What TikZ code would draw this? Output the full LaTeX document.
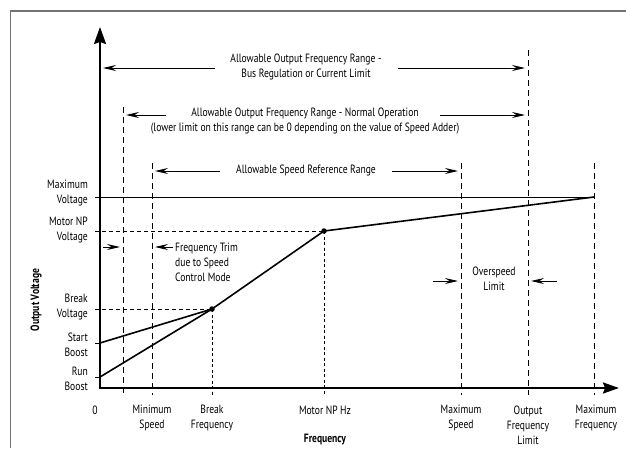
\documentclass[tikz,border=0pt]{standalone}
\usepackage{fontspec}
\setmainfont{PT Sans}[FakeStretch=0.8]
\usetikzlibrary{arrows.meta}
\begin{document}
\begin{tikzpicture}[x=1pt,y=-1pt,
  lbl/.style={font=\fontsize{12}{15}\selectfont, inner sep=0pt, align=center, text=black},
  lblr/.style={lbl, align=right, anchor=east},
  lbll/.style={lbl, align=left, anchor=west},
  boldlbl/.style={lbl, font=\fontsize{12}{15}\selectfont\bfseries},
  axisline/.style={line width=2.2pt},
  curveline/.style={line width=1.6pt},
  vdash/.style={line width=1pt, dash pattern=on 6pt off 4pt},
  hdash/.style={line width=0.8pt, dash pattern=on 4pt off 3pt},
  fdash/.style={line width=0.8pt, dash pattern=on 3pt off 2.5pt},
  arr/.style={line width=1pt, -{Stealth[length=13pt,width=6pt,inset=4.5pt]}},
  ptdot/.style={circle, fill=black, inner sep=0pt, minimum size=5.5pt},
]
\useasboundingbox (0,0) rectangle (626,448);
% frame
\draw[black!55, line width=1.3pt] (10.5,448) -- (10.5,11) -- (626,11);

% axis coordinates
\coordinate (O) at (100,388);
\coordinate (Ytop) at (100,27);
\coordinate (Xend) at (619,388);

% dashed verticals
\coordinate (v1t) at (123,107); \coordinate (v1b) at (123,395);
\coordinate (v2t) at (152,163); \coordinate (v2b) at (152,395);
\coordinate (v5t) at (461,163); \coordinate (v5b) at (461,395);
\coordinate (v6t) at (528,50);  \coordinate (v6b) at (528,395);
\coordinate (v7t) at (594,163); \coordinate (v7b) at (594,395);
\draw[vdash] (v1t) -- (v1b);
\draw[vdash] (v2t) -- (v2b);
\draw[vdash] (v5t) -- (v5b);
\draw[vdash] (v6t) -- (v6b);
\draw[vdash] (v7t) -- (v7b);

% key points
\coordinate (SB) at (100,343);
\coordinate (RB) at (100,377);
\node[ptdot] (BP) at (212,309) {};
\node[ptdot] (NP) at (324,231) {};
\coordinate (MX) at (594,197);

% fine dotted verticals
\coordinate (bpb) at (212,395);
\coordinate (npb) at (324,395);
\draw[fdash] (BP.center) -- (bpb);
\draw[fdash] (NP.center) -- (npb);

% horizontals
\coordinate (hmv) at (95,197);
\coordinate (hnp) at (95,231);
\coordinate (hbv) at (95,309);
\coordinate (hsb) at (95,343);
\coordinate (hrb) at (95,377);
\draw[line width=1pt] (hmv) -- (MX);
\draw[hdash] (hnp) -- (NP.center);
\draw[hdash] (hbv) -- (BP.center);
\draw[line width=1pt] (hsb) -- (SB);
\draw[line width=1pt] (hrb) -- (RB);

% curves
\draw[curveline] (SB) -- (BP.center);
\draw[curveline, line join=round] (RB) -- (BP.center) -- (NP.center) -- (MX);

% axes
\draw[axisline, -{Stealth[length=17pt,width=12pt,inset=2pt]}] (O) -- (Ytop);
\draw[axisline, -{Stealth[length=16pt,width=11pt,inset=2pt]}] ([xshift=-1.1pt]O) -- (Xend);

% range texts and arrows
\node[lbl] (t1) at (306,66.5) {Allowable Output Frequency Range -\\Bus Regulation or Current Limit};
\coordinate (a1l) at (103,68); \coordinate (a1r) at (525,68);
\coordinate (a1ls) at (215,68); \coordinate (a1rs) at (398,68);
\draw[arr] (a1ls) -- (a1l);
\draw[arr] (a1rs) -- (a1r);

\node[lbl] (t2) at (305,121) {Allowable Output Frequency Range - Normal Operation\\(lower limit on this range can be 0 depending on the value of Speed Adder)};
\coordinate (a2l) at (126,115); \coordinate (a2r) at (525,115);
\coordinate (a2ls) at (166,115); \coordinate (a2rs) at (440,115);
\draw[arr] (a2ls) -- (a2l);
\draw[arr] (a2rs) -- (a2r);

\node[lbl] (t3) at (306,170) {Allowable Speed Reference Range};
\coordinate (a3l) at (155,171); \coordinate (a3r) at (458,171);
\coordinate (a3ls) at (220,171); \coordinate (a3rs) at (392,171);
\draw[arr] (a3ls) -- (a3l);
\draw[arr] (a3rs) -- (a3r);

% frequency trim
\node[lbll] (ft) at (175,262) {Frequency Trim\\due to Speed\\Control Mode};
\coordinate (ftl) at (103,247); \coordinate (ftle) at (120,247);
\coordinate (ftr) at (173,247); \coordinate (ftre) at (155,247);
\draw[arr] (ftl) -- (ftle);
\draw[arr] (ftr) -- (ftre);

% overspeed
\node[lbl] (os) at (494,278.5) {Overspeed\\Limit};
\coordinate (osl) at (433,281); \coordinate (osle) at (458,281);
\coordinate (osr) at (557,281); \coordinate (osre) at (531,281);
\draw[arr] (osl) -- (osle);
\draw[arr] (osr) -- (osre);

% y labels
\node[lblr] (ymv) at (88,193.5) {Maximum\\Voltage};
\node[lblr] (ynp) at (88,229.5) {Motor NP\\Voltage};
\node[lblr] (ybv) at (88,307.5) {Break\\Voltage};
\node[lblr] (ysb) at (88,345) {Start\\Boost};
\node[lblr] (yrb) at (88,378.5) {Run\\Boost};

% x labels
\node[lbl] (x0) at (95,410) {0};
\node[lbl] (xms) at (152,417.5) {Minimum\\Speed};
\node[lbl] (xbf) at (212,417.5) {Break\\Frequency};
\node[lbl] (xnp) at (325,410) {Motor NP Hz};
\node[lbl] (xmxs) at (461,417.5) {Maximum\\Speed};
\node[lbl] (xofl) at (528,425) {Output\\Frequency\\Limit};
\node[lbl] (xmf) at (596,417.5) {Maximum\\Frequency};

% axis titles
\node[boldlbl] (xt) at (325,440) {Frequency};
\node[boldlbl, rotate=90] (yt) at (36,300) {Output Voltage};
\end{tikzpicture}
\end{document}
